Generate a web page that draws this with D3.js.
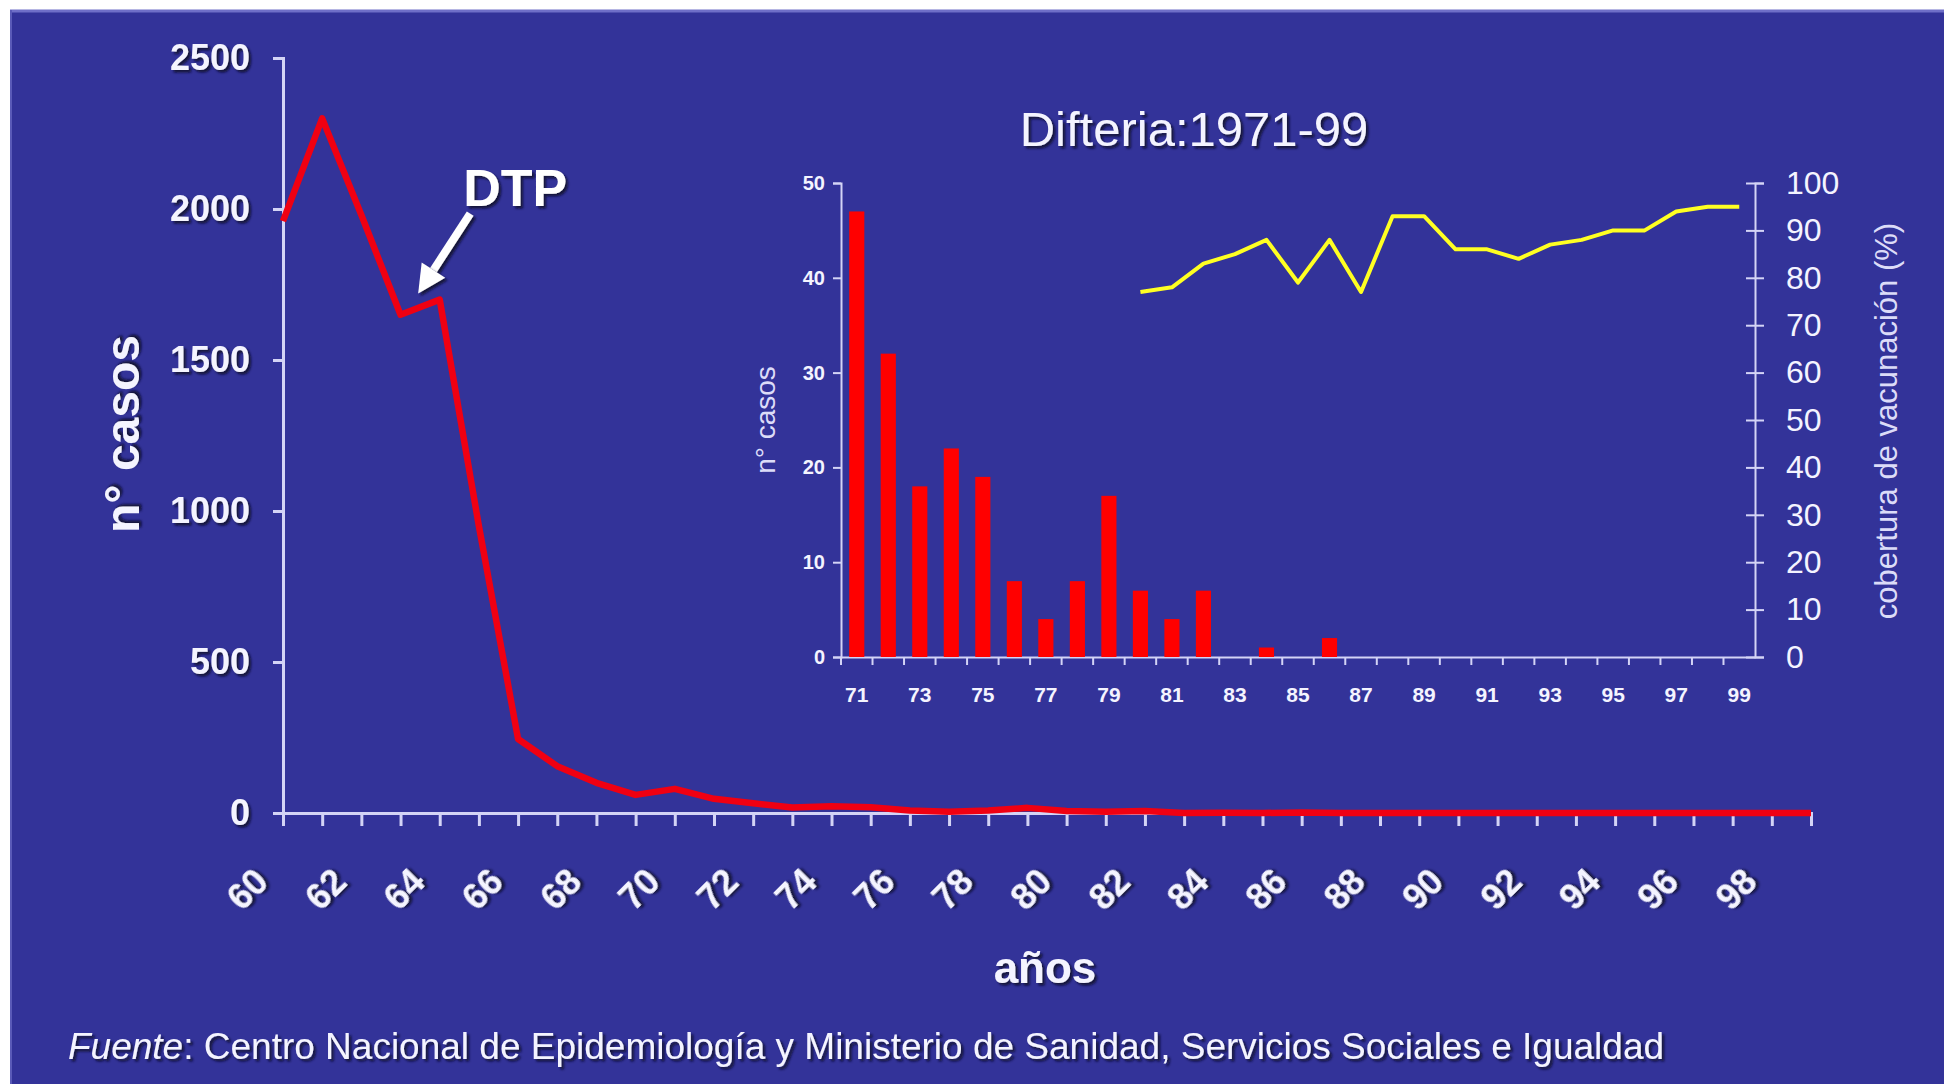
<!DOCTYPE html>
<html>
<head>
<meta charset="utf-8">
<script src="https://cdn.jsdelivr.net/npm/d3@7"></script>
<style>
    body { margin: 0; background: #fff; }
    svg text { font-family: "Liberation Sans", Arial, sans-serif; }
</style>
</head>
<body>
<svg id="chart"></svg>
<script>
// Casos de difteria en España, 1960-1999 (gráfico principal)
const years = d3.range(60, 100);
const cases = [1960, 2300, 1980, 1650, 1700, 950, 245, 155, 100, 60,
               80, 47, 32, 18, 22, 19, 8, 4, 8, 17,
               7, 4, 7, 0, 1, 0, 2, 0, 0, 0,
               0, 0, 0, 0, 0, 0, 0, 0, 0, 0];
const yTickValues = [0, 500, 1000, 1500, 2000, 2500];
const xLabelYears = [60, 62, 64, 66, 68, 70, 72, 74, 76, 78, 80, 82, 84, 86, 88, 90, 92, 94, 96, 98];

// Recuadro: Difteria 1971-99
const insetYears = d3.range(71, 100);
const insetCases = [47, 32, 18, 22, 19, 8, 4, 8, 17, 7,
                    4, 7, 0, 1, 0, 2, 0, 0, 0, 0,
                    0, 0, 0, 0, 0, 0, 0, 0, 0];
const coverageYears = d3.range(80, 100);
const coverage = [77, 78, 83, 85, 88, 79, 88, 77, 93, 93,
                  86, 86, 84, 87, 88, 90, 90, 94, 95, 95];
const insetLeftTicks = [0, 10, 20, 30, 40, 50];
const insetRightTicks = [0, 10, 20, 30, 40, 50, 60, 70, 80, 90, 100];
const insetLabelYears = [71, 73, 75, 77, 79, 81, 83, 85, 87, 89, 91, 93, 95, 97, 99];

const width = 1944;
const height = 1084;
const bg = "#333399";
const axisColor = "#d4d4f6";
const textColor = "#f4f4ff";

const svg = d3.select("#chart").attr("width", width).attr("height", height);

const defs = svg.append("defs");
const shadow = defs.append("filter").attr("id", "shadow").attr("x", "-10%").attr("y", "-10%").attr("width", "130%").attr("height", "140%");
shadow.append("feDropShadow").attr("dx", 2.5).attr("dy", 2.5).attr("stdDeviation", 1).attr("flood-color", "#0a0a2a").attr("flood-opacity", 0.85);

// fondo de la diapositiva
svg.append("rect").attr("x", 10).attr("y", 10).attr("width", width - 10).attr("height", height - 10).attr("fill", bg);
svg.append("line").attr("x1", 10).attr("x2", width).attr("y1", 11).attr("y2", 11).attr("stroke", "#6f6fc8").attr("stroke-width", 3);
svg.append("line").attr("x1", 11).attr("x2", 11).attr("y1", 10).attr("y2", height).attr("stroke", "#5a5ab8").attr("stroke-width", 2);

// ---- GRÁFICO PRINCIPAL ----
const x = d3.scaleLinear().domain([60, 99]).range([283, 1811]);
const y = d3.scaleLinear().domain([0, 2500]).range([813, 58]);

const yAxis = svg.append("g").attr("transform", `translate(${x(60)},0)`)
    .call(d3.axisLeft(y).tickValues(yTickValues).tickFormat(d3.format("d")).tickSize(10).tickPadding(23));
yAxis.select(".domain").attr("stroke", axisColor).attr("stroke-width", 3);
yAxis.selectAll(".tick line").attr("stroke", axisColor).attr("stroke-width", 3);
yAxis.selectAll(".tick text").attr("fill", textColor).attr("font-size", 36).attr("font-weight", "bold").attr("filter", "url(#shadow)");

const xAxis = svg.append("g").attr("transform", `translate(0,${y(0)})`)
    .call(d3.axisBottom(x).tickValues(years).tickSize(13).tickFormat(""));
xAxis.select(".domain").attr("stroke", axisColor).attr("stroke-width", 3);
xAxis.selectAll(".tick line").attr("stroke", axisColor).attr("stroke-width", 3);

svg.append("g").selectAll("text").data(xLabelYears).join("text")
    .attr("transform", d => `translate(${x(d) - 36},${y(0) + 76}) rotate(-45)`)
    .attr("text-anchor", "middle").attr("dominant-baseline", "central")
    .attr("fill", textColor).attr("font-size", 36).attr("font-weight", "bold").attr("filter", "url(#shadow)")
    .text(d => d);

const lineMain = d3.line().x((d, i) => x(years[i])).y(d => y(d));
svg.append("path").datum(cases).attr("fill", "none").attr("stroke", "#f00012").attr("stroke-width", 6.5).attr("stroke-linejoin", "round").attr("d", lineMain);

svg.append("text").attr("transform", "translate(139,434) rotate(-90)").attr("text-anchor", "middle")
    .attr("fill", textColor).attr("font-size", 48).attr("font-weight", "bold").attr("filter", "url(#shadow)").text("n° casos");
svg.append("text").attr("x", 1045).attr("y", 983).attr("text-anchor", "middle")
    .attr("fill", textColor).attr("font-size", 44).attr("font-weight", "bold").attr("filter", "url(#shadow)").text("años");

// flecha DTP
const tip = [x(63.45), y(1720)];
const tail = [tip[0] + 52, tip[1] - 80];
const ang = Math.atan2(tip[1] - tail[1], tip[0] - tail[0]);
const headLen = 28, headHalf = 14;
const base = [tip[0] - headLen * Math.cos(ang), tip[1] - headLen * Math.sin(ang)];
const nx = -Math.sin(ang), ny = Math.cos(ang);
svg.append("line").attr("x1", tail[0]).attr("y1", tail[1]).attr("x2", base[0]).attr("y2", base[1])
    .attr("stroke", "#ffffff").attr("stroke-width", 8).attr("filter", "url(#shadow)");
svg.append("path")
    .attr("d", `M${tip[0]},${tip[1]}L${base[0] + nx * headHalf},${base[1] + ny * headHalf}L${base[0] - nx * headHalf},${base[1] - ny * headHalf}Z`)
    .attr("fill", "#ffffff").attr("filter", "url(#shadow)");
svg.append("text").attr("x", tail[0] + 45).attr("y", tail[1] - 8).attr("text-anchor", "middle")
    .attr("fill", "#ffffff").attr("font-size", 52).attr("font-weight", "bold").attr("filter", "url(#shadow)").text("DTP");

// ---- RECUADRO 1971-99 ----
const xIn = d3.scaleBand().domain(insetYears).range([841, 1755]).padding(0);
const yInL = d3.scaleLinear().domain([0, 50]).range([657, 183]);
const yInR = d3.scaleLinear().domain([0, 100]).range([657, 183]);
const bw = xIn.bandwidth();

svg.append("text").attr("x", 1194).attr("y", 146).attr("text-anchor", "middle")
    .attr("fill", textColor).attr("font-size", 49).attr("filter", "url(#shadow)").text("Difteria:1971-99");

const inL = svg.append("g").attr("transform", `translate(${xIn.range()[0]},0)`)
    .call(d3.axisLeft(yInL).tickValues(insetLeftTicks).tickSize(8).tickPadding(8));
inL.select(".domain").attr("stroke", axisColor).attr("stroke-width", 2);
inL.selectAll(".tick line").attr("stroke", axisColor).attr("stroke-width", 2);
inL.selectAll(".tick text").attr("fill", textColor).attr("font-size", 20).attr("font-weight", "bold");

const inR = svg.append("g").attr("transform", `translate(${xIn.range()[1]},0)`)
    .call(d3.axisRight(yInR).tickValues(insetRightTicks).tickSize(9).tickPadding(22));
inR.select(".domain").attr("stroke", axisColor).attr("stroke-width", 2);
inR.selectAll(".tick line").attr("x1", -9).attr("stroke", axisColor).attr("stroke-width", 2);
inR.selectAll(".tick text").attr("fill", textColor).attr("font-size", 32);

const inB = svg.append("g").attr("transform", `translate(0,${yInL(0)})`)
    .call(d3.axisBottom(xIn).tickValues(insetLabelYears).tickSize(0).tickPadding(30));
inB.select(".domain").attr("stroke", axisColor).attr("stroke-width", 2);
inB.selectAll(".tick text").attr("fill", textColor).attr("font-size", 21).attr("font-weight", "bold");
inB.selectAll(".sep").data(insetYears).join("line").attr("class", "sep")
    .attr("x1", d => xIn(d)).attr("x2", d => xIn(d)).attr("y1", 0).attr("y2", 8)
    .attr("stroke", axisColor).attr("stroke-width", 2);

svg.append("g").selectAll("rect").data(insetCases).join("rect")
    .attr("x", (d, i) => xIn(insetYears[i]) + bw * 0.26).attr("width", bw * 0.48)
    .attr("y", d => yInL(d)).attr("height", d => yInL(0) - yInL(d))
    .attr("fill", "#ff0000");

const lineCov = d3.line().x((d, i) => xIn(coverageYears[i]) + bw / 2).y(d => yInR(d));
svg.append("path").datum(coverage).attr("fill", "none").attr("stroke", "#ffff22").attr("stroke-width", 4).attr("stroke-linejoin", "round").attr("d", lineCov);

svg.append("text").attr("transform", "translate(775,420) rotate(-90)").attr("text-anchor", "middle")
    .attr("fill", "#dcdcf8").attr("font-size", 28).text("n° casos");
svg.append("text").attr("transform", "translate(1897,421) rotate(-90)").attr("text-anchor", "middle")
    .attr("fill", "#dcdcf8").attr("font-size", 31).text("cobertura de vacunación (%)");

// fuente
const src = svg.append("text").attr("x", 68).attr("y", 1059).attr("fill", textColor).attr("font-size", 37).attr("filter", "url(#shadow)");
src.append("tspan").attr("font-style", "italic").text("Fuente");
src.append("tspan").text(": Centro Nacional de Epidemiología y Ministerio de Sanidad, Servicios Sociales e Igualdad");
</script>
</body>
</html>
